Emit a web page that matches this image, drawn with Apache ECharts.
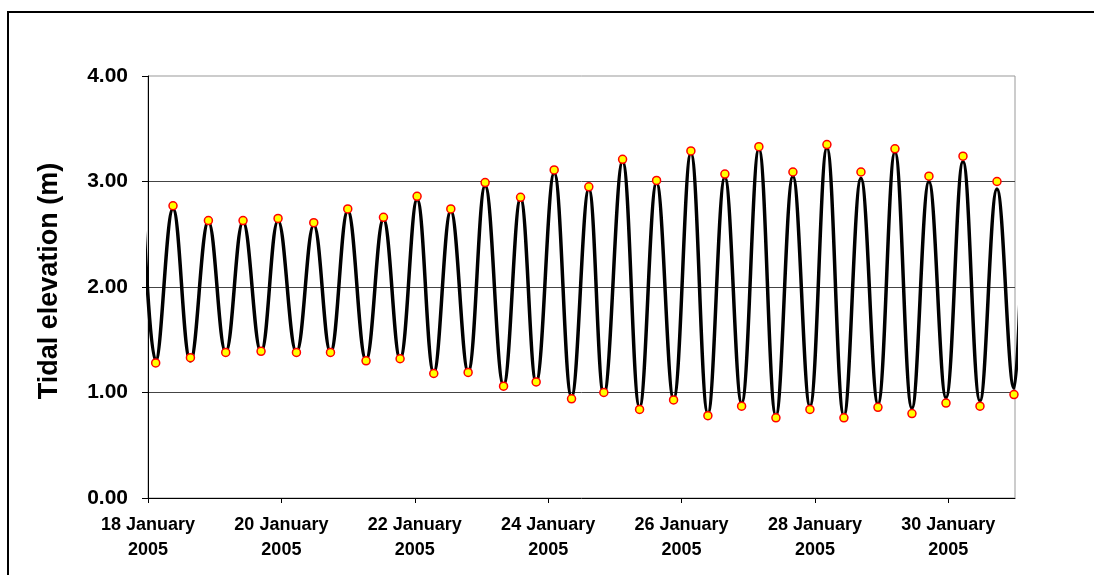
<!DOCTYPE html>
<html>
<head>
<meta charset="utf-8">
<script src="https://cdn.jsdelivr.net/npm/echarts@6/dist/echarts.min.js"></script>
<style>
html,body{margin:0;padding:0;background:#fff;}
#chart{width:1094px;height:575px;}
</style>
</head>
<body>
<div id="chart"></div>
<script>
// Observed high/low water times and elevations (m)
const obsTimes = [
 '2005-01-18 02:46','2005-01-18 09:00','2005-01-18 15:16','2005-01-18 21:44',
 '2005-01-19 03:58','2005-01-19 10:12','2005-01-19 16:41','2005-01-19 22:48',
 '2005-01-20 05:25','2005-01-20 11:39','2005-01-20 17:40','2005-01-20 23:53',
 '2005-01-21 06:28','2005-01-21 12:44','2005-01-21 18:43','2005-01-22 00:50',
 '2005-01-22 06:50','2005-01-22 12:58','2005-01-22 19:12','2005-01-23 01:19',
 '2005-01-23 07:57','2005-01-23 14:04','2005-01-23 19:41','2005-01-24 02:10',
 '2005-01-24 08:25','2005-01-24 14:38','2005-01-24 20:02','2005-01-25 02:47',
 '2005-01-25 08:54','2005-01-25 15:01','2005-01-25 21:08','2005-01-26 03:22',
 '2005-01-26 09:29','2005-01-26 15:36','2005-01-26 21:37','2005-01-27 03:50',
 '2005-01-27 09:58','2005-01-27 16:05','2005-01-27 22:12','2005-01-28 04:19',
 '2005-01-28 10:26','2005-01-28 16:34','2005-01-28 22:41','2005-01-29 04:48',
 '2005-01-29 10:55','2005-01-29 17:02','2005-01-29 23:10','2005-01-30 05:17',
 '2005-01-30 11:24','2005-01-30 17:31','2005-01-30 23:38'
];
const obsValues = [
 1.28,2.77,1.33,2.63, 1.38,2.63,1.39,2.65, 1.38,2.61,1.38,2.74,
 1.30,2.66,1.32,2.86, 1.18,2.74,1.19,2.99, 1.06,2.85,1.10,3.11,
 0.94,2.95,1.00,3.21, 0.84,3.01,0.93,3.29, 0.78,3.07,0.87,3.33,
 0.76,3.09,0.84,3.35, 0.76,3.09,0.86,3.31, 0.80,3.05,0.90,3.24,
 0.87,3.00,0.98
];
// Modelled tidal curve (turning points)
const curveTimes = ['2005-01-17 22:27'].concat(obsTimes, ['2005-01-31 01:48']);
const curveValues = [
 2.65,
 1.30,2.74,1.30,2.62, 1.38,2.62,1.38,2.63, 1.38,2.59,1.38,2.72,
 1.31,2.64,1.32,2.83, 1.19,2.72,1.20,2.96, 1.07,2.84,1.10,3.08,
 0.96,2.93,0.98,3.19, 0.86,2.99,0.94,3.27, 0.80,3.04,0.90,3.31,
 0.78,3.05,0.87,3.32, 0.78,3.03,0.89,3.28, 0.85,3.00,0.95,3.19,
 0.92,2.93,1.04,
 1.90
];
const yTicks = [0,1,2,3,4];
const monthName = 'January';

function t(s){
  const [d,h] = s.split(' ');
  const [Y,M,D] = d.split('-').map(Number);
  const [hh,mm] = h.split(':').map(Number);
  return Date.UTC(Y,M-1,D,hh,mm);
}
const DAY = 86400000;
const xMin = Date.UTC(2005,0,18);
const xMax = Date.UTC(2005,0,31);

const font = '"Liberation Sans", Arial, sans-serif';
const chart = echarts.init(document.getElementById('chart'));
chart.setOption({
  animation:false,
  backgroundColor:'#fff',
  graphic:[{
    type:'rect', silent:true, z:-10,
    shape:{x:8, y:12, width:1200, height:700},
    style:{fill:null, stroke:'#000', lineWidth:2}
  }],
  grid:{left:148, right:79, top:76, bottom:77, containLabel:false,
        show:true, borderColor:'#999', borderWidth:1, backgroundColor:'transparent'},
  xAxis:{
    type:'value', min:xMin, max:xMax, interval:2*DAY,
    axisLine:{show:true, lineStyle:{color:'#000', width:1}},
    axisTick:{show:true, length:5, lineStyle:{color:'#000'}},
    splitLine:{show:false},
    axisLabel:{
      showMaxLabel:false, margin:15, fontFamily:font, fontWeight:'bold', fontSize:18,
      color:'#000', lineHeight:25,
      formatter:function(v){ const d=new Date(v); return d.getUTCDate()+' '+monthName+'\n'+d.getUTCFullYear(); }
    }
  },
  yAxis:{
    type:'value', min:yTicks[0], max:yTicks[yTicks.length-1], interval:1,
    name:'Tidal elevation (m)', nameLocation:'middle', nameRotate:90, nameGap:85,
    nameTextStyle:{fontFamily:font, fontWeight:'bold', fontSize:27, color:'#000', padding:[0,0,0,12]},
    axisLine:{show:true, lineStyle:{color:'#000', width:1}},
    axisTick:{show:true, length:6, lineStyle:{color:'#000'}},
    splitLine:{show:true, showMinLine:false, showMaxLine:false, lineStyle:{color:'#444', width:1}},
    axisLabel:{margin:20, fontFamily:font, fontWeight:'bold', fontSize:21, color:'#000',
      formatter:function(v){ return v.toFixed(2); }}
  },
  series:[
    {
      type:'line', smooth:0.4, symbol:'none', clip:false, z:2,
      lineStyle:{color:'#000', width:3.5},
      data: curveTimes.map((s,i)=>[t(s), curveValues[i]])
    },
    {
      type:'scatter', symbol:'circle', symbolSize:8, clip:false, z:3,
      itemStyle:{color:'#FFFF00', borderColor:'#FF0000', borderWidth:1.5, opacity:1},
      data: obsTimes.map((s,i)=>[t(s), obsValues[i]])
    }
  ]
});
</script>
</body>
</html>
